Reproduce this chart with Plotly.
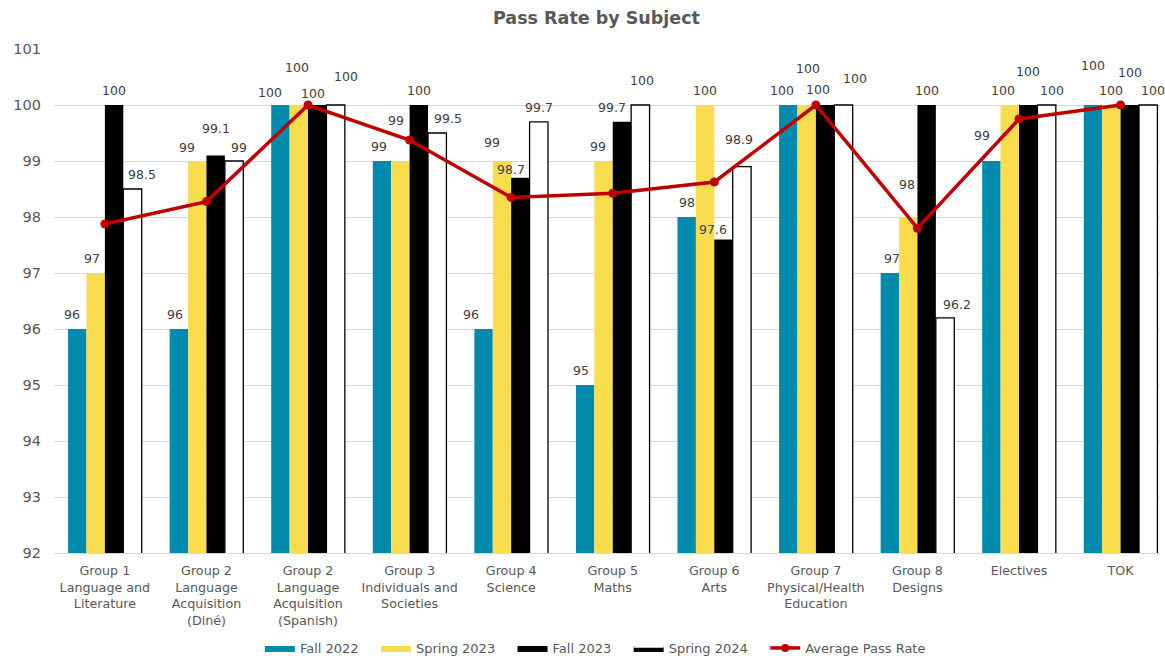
import plotly.graph_objects as go

categories = [
    "Group 1<br>Language and<br>Literature",
    "Group 2<br>Language<br>Acquisition<br>(Diné)",
    "Group 2<br>Language<br>Acquisition<br>(Spanish)",
    "Group 3<br>Individuals and<br>Societies",
    "Group 4<br>Science",
    "Group 5<br>Maths",
    "Group 6<br>Arts",
    "Group 7<br>Physical/Health<br>Education",
    "Group 8<br>Designs",
    "Electives",
    "TOK",
]
fall_2022 = [96, 96, 100, 99, 96, 95, 98, 100, 97, 99, 100]
spring_2023 = [97, 99, 100, 99, 99, 99, 100, 100, 98, 100, 100]
fall_2023 = [100, 99.1, 100, 100, 98.7, 99.7, 97.6, 100, 100, 100, 100]
spring_2024 = [98.5, 99, 100, 99.5, 99.7, 100, 98.9, 100, 96.2, 100, 100]
average_pass_rate = [97.875, 98.275, 100, 99.375, 98.35, 98.425, 98.625, 100, 97.8, 99.75, 100]

# label nudges in pixels (dx, extra lift) per series, per category -- style only
label_nudges = [
    [(-5, 0), (-4, 0), (-10, -2), (-3, 0), (-13, 0), (-4, 0), (0, 0), (-6, 0), (2, 0), (-9, 11), (0, 25)],
    [(-4, 0), (-10, -1), (-2, 23), (-4, 26), (-10, 4), (-6, 0), (0, 0), (1, 22), (-1, 18), (-7, 0), (0, 0)],
    [(0, 0), (0, 12), (-4, -3), (0, 0), (-9, -6), (-10, 0), (-11, -5), (-7, 1), (0, 0), (0, 19), (0, 18)],
    [(10, 0), (5, -1), (10, 14), (11, 0), (0, 0), (2, 10), (-3, 13), (12, 12), (12, -1), (5, 0), (5, 0)],
]

FONT = "DejaVu Sans"
GREY = "#595959"
PAD = "\u00a0\u00a0\u00a0"  # spacing after legend text

fig = go.Figure()
series = [
    ("Fall 2022", fall_2022, "#008BAD", "#008BAD", 0),
    ("Spring 2023", spring_2023, "#FADD4F", "#FADD4F", 0),
    ("Fall 2023", fall_2023, "#000000", "#000000", 0),
    ("Spring 2024", spring_2024, "#FFFFFF", "#000000", 1.3),
]
for name, vals, fill, line, lw in series:
    fig.add_trace(go.Bar(
        name=name, x=categories, y=vals, showlegend=False,
        marker=dict(color=fill, line=dict(color=line, width=lw if lw else 0)),
        hovertemplate="%{y}<extra>" + name + "</extra>",
    ))

fig.add_trace(go.Scatter(
    name="Average Pass Rate", x=categories, y=average_pass_rate,
    mode="lines+markers", line=dict(color="#C00000", width=3.5),
    marker=dict(color="#C00000", size=9), showlegend=False,
))

# legend entries (wide rectangle swatches); outlined one = dark rect with light stripe
for name, vals, fill, line, lw in series:
    if lw:
        leg_fill, leg_line, leg_w = line, fill, 3.6
    else:
        leg_fill, leg_line, leg_w = fill, fill, 0.01
    fig.add_trace(go.Scatter(
        name=name + PAD, x=[None], y=[None], mode="lines", fill="toself",
        fillcolor=leg_fill, line=dict(color=leg_line, width=leg_w),
        showlegend=True, hoverinfo="skip",
    ))
fig.add_trace(go.Scatter(
    name="Average Pass Rate", x=[None], y=[None], mode="lines+markers",
    line=dict(color="#C00000", width=3.5), marker=dict(color="#C00000", size=8),
    showlegend=True, hoverinfo="skip",
))

BAR_PX = 18.4
for si, (name, vals, fill, line, lw) in enumerate(series):
    for ci, (cat, v) in enumerate(zip(categories, vals)):
        dx, lift = label_nudges[si][ci]
        fig.add_annotation(
            x=cat, y=v, xref="x", yref="y", text=f"{v:g}", showarrow=False,
            xanchor="center", yanchor="middle",
            xshift=(si - 1.5) * BAR_PX + dx, yshift=14.5 + lift,
            font=dict(family=FONT, size=12.5, color="#404040"),
        )

fig.update_layout(
    width=1165, height=656,
    margin=dict(l=54, r=5, t=49, b=0, autoexpand=False),
    paper_bgcolor="white", plot_bgcolor="white",
    title=dict(text="<b>Pass Rate by Subject</b>", xref="paper", x=0.4905, xanchor="center",
               yref="container", y=1 - 18 / 656, yanchor="middle",
               font=dict(family=FONT, size=17.5, color=GREY)),
    barmode="group", bargap=0.275, bargroupgap=0,
    font=dict(family=FONT, size=13, color=GREY),
    legend=dict(orientation="h", x=0.4895, xanchor="center", y=(656 - 648) / 607, yanchor="middle",
                font=dict(family=FONT, size=13, color=GREY), traceorder="normal",
                itemwidth=30, bgcolor="rgba(0,0,0,0)"),
    showlegend=True,
)
fig.update_yaxes(range=[92, 101], dtick=1, showgrid=True, gridcolor="#D9D9D9", gridwidth=1,
                 zeroline=False, showline=False, tickfont=dict(family=FONT, size=14.5, color=GREY),
                 ticks="", ticklabelstandoff=12, domain=[103 / 607, 1], automargin=False)
fig.update_xaxes(range=[-0.501, 10.388], showline=True, linecolor="#D9D9D9", linewidth=1, ticks="",
                 tickfont=dict(family=FONT, size=12.7, color=GREY), ticklabelstandoff=6,
                 automargin=False)

fig.write_html("out.html", config={"displayModeBar": False},
               post_script="document.body.style.margin='0';")
